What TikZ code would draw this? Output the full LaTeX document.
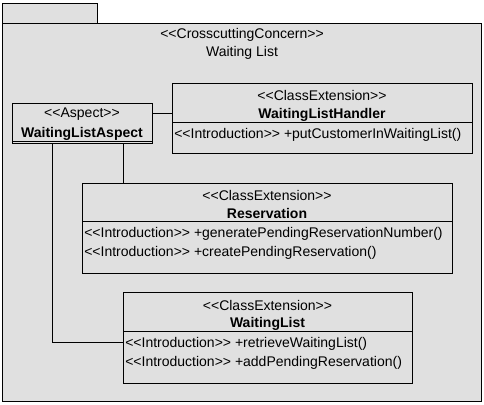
\documentclass[tikz,border=0pt]{standalone}
\usepackage{fontspec}
\setmainfont{Liberation Sans}
\definecolor{pkggray}{RGB}{224,224,224}
\begin{document}
\begin{tikzpicture}[x=0.75pt,y=-0.75pt,
  box/.style={draw=black,fill=pkggray,line width=0.75pt,inner sep=0pt,anchor=north west},
  txt/.style={font=\fontsize{10.5}{12}\selectfont,inner sep=0pt,yshift=-1.1pt},
  stereo/.style={txt},
  cname/.style={txt,font=\fontsize{10.5}{12}\selectfont\bfseries},
  oper/.style={txt,anchor=west},
  conn/.style={draw=black,line width=0.75pt}]
\useasboundingbox (0,0) rectangle (484,404);
% package
\node[box,minimum width=95*0.75pt,minimum height=20*0.75pt] (tab) at (2,3) {};
\node[box,minimum width=479*0.75pt,minimum height=378*0.75pt] (pkg) at (2,23) {};
\node[stereo] (pkgst) at (242,33) {<{}<CrosscuttingConcern>{}>};
\node[stereo] (pkgname) at (242,51) {Waiting List};
% aspect
\node[box,minimum width=140*0.75pt,minimum height=40*0.75pt] (aspect) at (12,103) {};
\draw[line width=0.75pt] (12,141.6) -- (152,141.6);
\node[stereo] (aspst) at (82,113) {<{}<Aspect>{}>};
\node[cname] (aspname) at (82,132) {WaitingListAspect};
% handler
\node[box,minimum width=300*0.75pt,minimum height=70*0.75pt] (handler) at (172,83) {};
\draw[line width=0.75pt] (172,122) -- (472,122);
\node[stereo] (hst) at (322,94) {<{}<ClassExtension>{}>};
\node[cname] (hname) at (322,113) {WaitingListHandler};
\node[oper] (hop1) at (174,133) {<{}<Introduction>{}> +putCustomerInWaitingList()};
% reservation
\node[box,minimum width=370*0.75pt,minimum height=90*0.75pt] (res) at (82,183) {};
\draw[line width=0.75pt] (82,221) -- (452,221);
\node[stereo] (rst) at (267,194) {<{}<ClassExtension>{}>};
\node[cname] (rname) at (267,212) {Reservation};
\node[oper] (rop1) at (84,232) {<{}<Introduction>{}> +generatePendingReservationNumber()};
\node[oper] (rop2) at (84,251) {<{}<Introduction>{}> +createPendingReservation()};
% waiting list
\node[box,minimum width=289*0.75pt,minimum height=91*0.75pt] (wl) at (123,292) {};
\draw[line width=0.75pt] (123,331) -- (412,331);
\node[stereo] (wst) at (267.5,304) {<{}<ClassExtension>{}>};
\node[cname] (wname) at (267.5,322) {WaitingList};
\node[oper] (wop1) at (125,342) {<{}<Introduction>{}> +retrieveWaitingList()};
\node[oper] (wop2) at (125,361) {<{}<Introduction>{}> +addPendingReservation()};
% connectors
\coordinate (c1) at (52,342);
\draw[conn] (aspect.east |- 0,113) -- (handler.west |- 0,113);
\draw[conn] (aspect.south -| 123,0) -- (res.north -| 123,0);
\draw[conn] (aspect.south -| c1) -- (c1) -- (wl.west |- c1);
\end{tikzpicture}
\end{document}
